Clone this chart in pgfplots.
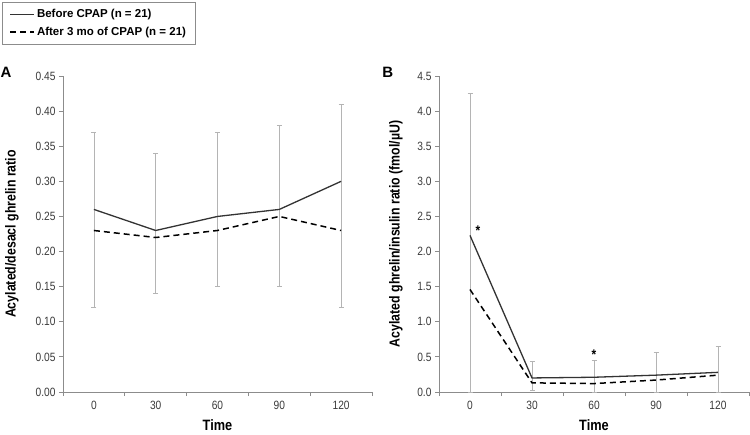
\documentclass[border=0pt]{standalone}
\usepackage{fontspec}
\setmainfont{Liberation Sans}[FakeStretch=0.85]
\newfontfamily\legfont{Liberation Sans}
\usepackage{pgfplots}
\pgfplotsset{compat=1.18}
\definecolor{axisgray}{HTML}{8C8C8C}
\definecolor{bargray}{HTML}{B4B4B4}
\definecolor{ticktext}{HTML}{3A3A3A}
\definecolor{linedark}{HTML}{333333}

\pgfplotsset{
  panel/.style={
    scale only axis, width=309pt, height=316pt, clip=false,
    axis x line*=bottom, axis y line*=left,
    axis line style={axisgray, line width=0.8pt},
    xmin=-0.5, xmax=4.5,
    xtick={0,1,2,3,4}, xticklabels={0,30,60,90,120},
    major x tick style={draw=none},
    minor xtick={-0.5,0.5,1.5,2.5,3.5,4.5},
    minor x tick style={axisgray, line width=0.8pt},
    minor tick length=4pt,
    major tick length=4pt,
    tick align=outside,
    y tick style={axisgray, line width=0.8pt},
    tick label style={font=\fontsize{12}{13}\selectfont, color=ticktext},
    /pgf/number format/assume math mode=true,
    xticklabel style={yshift=-2pt},
    xlabel={Time},
    xlabel style={font=\fontsize{15}{16}\selectfont\bfseries, at={(axis description cs:0.5,-0.106)}, anchor=center},
    ylabel style={font=\fontsize{14.5}{15}\selectfont\bfseries, anchor=center},
    errs/.style={forget plot, draw=none, mark=none,
      error bars/.cd, y dir=both, y explicit,
      error bar style={draw=bargray, line width=0.7pt, solid},
      error mark options={draw=bargray, rotate=90, mark size=2.5pt, line width=0.7pt}},
    before/.style={linedark, line width=1.3pt, mark=none},
    after/.style={black, line width=1.5pt, dash pattern=on 6pt off 4pt, mark=none},
  }
}

\begin{document}
\begin{tikzpicture}
\path[use as bounding box] (-63pt,-42pt) rectangle (687pt,392pt);

\begin{axis}[panel,
  ymin=0, ymax=0.45, ytick={0,0.05,...,0.451},
  yticklabel style={/pgf/number format/.cd, fixed, fixed zerofill, precision=2},
  ylabel={Acylated/desacl ghrelin ratio},
  ylabel style={at={(axis description cs:-0.165,0.5)}},
  legend style={at={(axis description cs:-0.197,1.234)}, anchor=north west,
    draw=axisgray, line width=0.8pt, font=\legfont\fontsize{11.5}{12}\selectfont\bfseries,
    row sep=4pt, inner xsep=7pt, inner ysep=5pt},
  legend cell align=left,
  legend image code/.code={\draw[#1] (0pt,0pt) -- (24pt,0pt);},
]
\addplot[errs] coordinates {
  (0,0.26) += (0,0.11) -= (0,0.14)
  (1,0.23) += (0,0.11) -= (0,0.09)
  (2,0.25) += (0,0.12) -= (0,0.10)
  (3,0.26) += (0,0.12) -= (0,0.11)
  (4,0.30) += (0,0.11) -= (0,0.18)
};
\addplot[before] coordinates {(0,0.26) (1,0.23) (2,0.25) (3,0.26) (4,0.30)};
\addplot[after] coordinates {(0,0.23) (1,0.22) (2,0.23) (3,0.25) (4,0.23)};
\legend{Before CPAP (n = 21), After 3 mo of CPAP (n = 21)}
\node[font=\legfont\fontsize{15}{16}\selectfont\bfseries] at (axis description cs:-0.184,1.013) {A};
\end{axis}

\begin{axis}[panel, xshift=376pt, width=310pt,
  ymin=0, ymax=4.5, ytick={0,0.5,...,4.51},
  yticklabel style={/pgf/number format/.cd, fixed, fixed zerofill, precision=1},
  ylabel={Acylated ghrelin/insulin ratio (fmol/µU)},
  ylabel style={at={(axis description cs:-0.139,0.5)}},
]
\addplot[errs] coordinates {
  (0,2.23) += (0,2.02) -= (0,2.23)
  (1,0.20) += (0,0.24) -= (0,0.18)
  (2,0.21) += (0,0.24) -= (0,0.21)
  (3,0.24) += (0,0.33) -= (0,0.24)
  (4,0.28) += (0,0.37) -= (0,0.28)
};
\addplot[before] coordinates {(0,2.23) (1,0.20) (2,0.21) (3,0.24) (4,0.28)};
\addplot[after] coordinates {(0,1.46) (1,0.13) (2,0.12) (3,0.17) (4,0.24)};
\addplot[only marks, mark=text, text mark={\fontsize{14}{14}\selectfont\bfseries *}]
  coordinates {(0.13,2.30) (2,0.53)};
\node[font=\legfont\fontsize{15}{16}\selectfont\bfseries] at (axis description cs:-0.165,1.013) {B};
\end{axis}
\end{tikzpicture}
\end{document}
